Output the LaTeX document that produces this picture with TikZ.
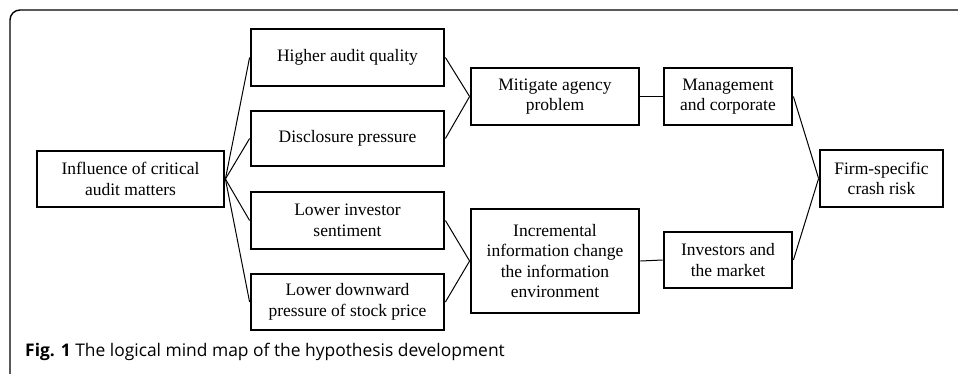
\documentclass[tikz,border=0pt]{standalone}
\usepackage{fontspec}
\setmainfont{Liberation Serif}
\newfontfamily\capfont{Open Sans}
\begin{document}
\begin{tikzpicture}[x=1pt,y=1pt,
  box/.style={draw=black,line width=2.8pt,fill=white,align=center,inner sep=0pt,
    font=\fontsize{17.5}{20.5}\selectfont},
  link/.style={draw=black,line width=1pt}]
\useasboundingbox (0,0) rectangle (958,-373);
\fill[white] (0,0) rectangle (958,-373);
\draw[line width=1.4pt,rounded corners=10pt] (10,-380) -- (10,-10) -- (970,-10);
\node[box,minimum width=187,minimum height=56] (infl) at (130.5,-179) {Influence of critical\\audit matters};
\node[box,minimum width=193,minimum height=57] (haq) at (347.5,-57.5) {Higher audit quality};
\node[box,minimum width=193,minimum height=55] (dp) at (347.5,-138.5) {Disclosure pressure};
\node[box,minimum width=193,minimum height=57] (lis) at (347.5,-220.5) {Lower investor\\sentiment};
\node[box,minimum width=193,minimum height=56] (ldp) at (347.5,-302) {Lower downward\\pressure of stock price};
\node[box,minimum width=168,minimum height=57] (mit) at (555,-96.5) {Mitigate agency\\problem};
\node[box,minimum width=168,minimum height=104] (inc) at (555,-261) {Incremental\\information change\\the information\\environment};
\node[box,minimum width=128,minimum height=57] (man) at (728,-96.5) {Management\\and corporate};
\node[box,minimum width=128,minimum height=56] (inv) at (728,-260) {Investors and\\the market};
\node[box,minimum width=123,minimum height=57] (firm) at (881.5,-178.5) {Firm-specific\\crash risk};
\foreach \t in {haq,dp,lis,ldp} \draw[link] (infl.east) -- (\t.west);
\draw[link] (haq.east) -- (mit.west);
\draw[link] (dp.east) -- (mit.west);
\draw[link] (lis.east) -- (inc.west);
\draw[link] (ldp.east) -- (inc.west);
\draw[link] (mit.east) -- (man.west);
\draw[link] (inc.east) -- (inv.west);
\draw[link] (man.east) -- (firm.west);
\draw[link] (inv.east) -- (firm.west);
\node[anchor=base west,inner sep=0pt,font=\capfont\fontsize{17.4}{20}\selectfont] (cap) at (25,-356) {\textbf{Fig. 1} The logical mind map of the hypothesis development};
\end{tikzpicture}
\end{document}
